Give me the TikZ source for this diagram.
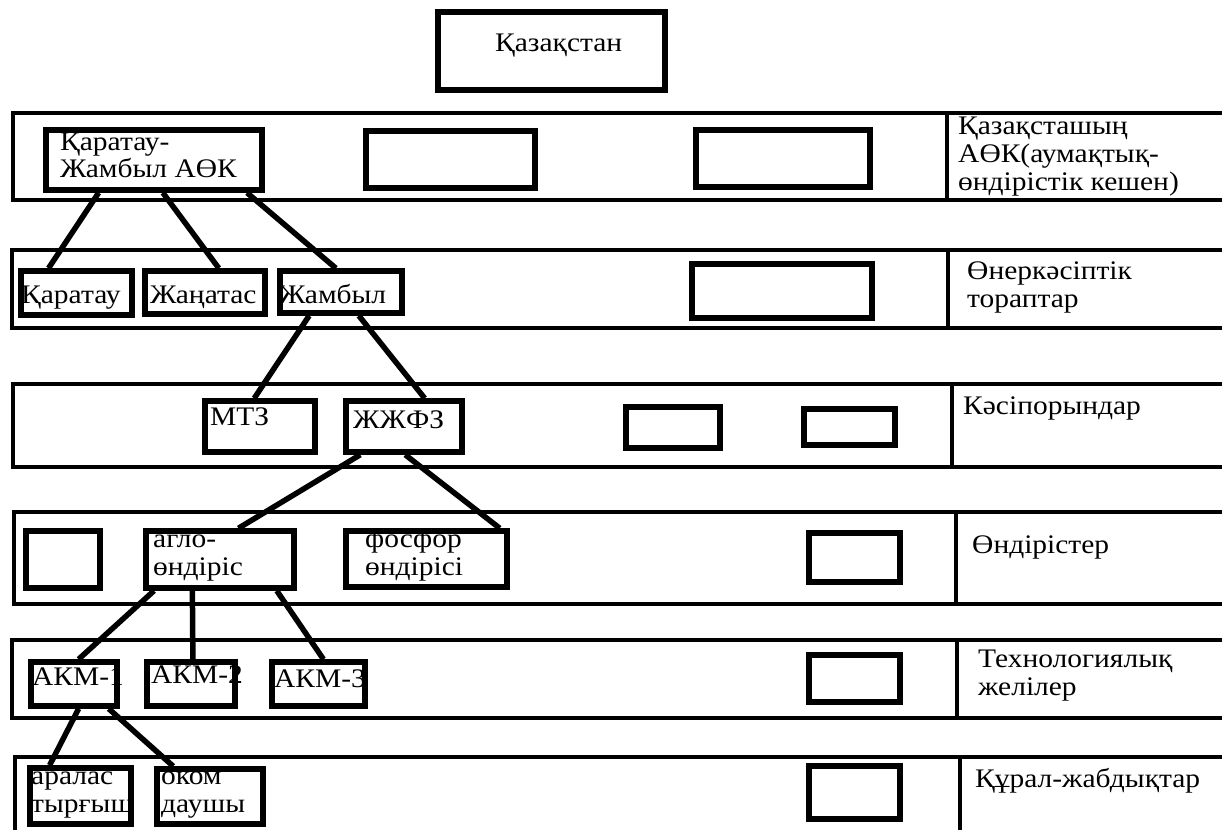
\documentclass[tikz,border=0pt]{standalone}
\usepackage{fontspec}
\setmainfont{Liberation Serif}[FakeStretch=1.1]
\usetikzlibrary{calc}

\newcommand\lblfont{\fontsize{26.8}{27.8}\selectfont}
% box by its border centre line: [style] name, x1, y1, x2, y2
\newcommand\boxnode[6][ibox]{%
  \node[#1,minimum width={(#5)-(#3)},minimum height={(#6)-(#4)}] (#2) at ({((#3)+(#5))/2},{((#4)+(#6))/2}) {};}
% connector from a point along the bottom of one box to a point along the top of another
\newcommand\linkit[4]{%
  \draw[link] ($(#1.south west)!#2!(#1.south east)$) -- ($(#3.north west)!#4!(#3.north east)$);}

\tikzset{
  band/.style={draw, line width=4.5pt, inner sep=0pt, outer sep=0pt},
  ibox/.style={draw, line width=5.5pt, inner sep=0pt},
  link/.style={line width=5.5pt},
  divider/.style={line width=4.5pt},
  % anchored at the baseline of the last line
  txt/.style={inner sep=0pt, font=\lblfont, align=left, anchor=base west},
}

\begin{document}
\begin{tikzpicture}[x=1pt,y=-1pt]
\useasboundingbox (0,0) rectangle (1222,829);
\clip (0,0) rectangle (1222,829);

% level bands, open at the right edge
\boxnode[band]{b1}{13}{113}{1245}{200}
\boxnode[band]{b2}{12}{250}{1245}{328}
\boxnode[band]{b3}{13}{384}{1245}{467}
\boxnode[band]{b4}{14}{512}{1245}{604}
\boxnode[band]{b5}{12}{640}{1245}{718}
\boxnode[band]{b6}{15}{757}{1245}{860}

% column separating the level names
\draw[divider] (b1.north west -| 947,0) -- (b1.south west -| 947,0);
\draw[divider] (b2.north west -| 948,0) -- (b2.south west -| 948,0);
\draw[divider] (b3.north west -| 952,0) -- (b3.south west -| 952,0);
\draw[divider] (b4.north west -| 956,0) -- (b4.south west -| 956,0);
\draw[divider] (b5.north west -| 957,0) -- (b5.south west -| 957,0);
\draw[divider] (b6.north west -| 960,0) -- (b6.south west -| 960,0);

% top
\boxnode{kz}{438}{12}{665}{90}
\node[txt] (tkz) at (495,52) {Қазақстан};

% level 1
\boxnode{kj}{46}{130}{262}{190}
\boxnode{e1b}{366}{131}{535}{188}
\boxnode{e1c}{696}{130}{870}{187}
\node[txt] (tkj) at (60,178) {Қаратау-\\Жамбыл АӨК};
\node[txt] (l1) at (958,190) {Қазақсташың\\АӨК(аумақтық-\\өндірістік кешен)};

% level 2
\boxnode{kar}{21}{271}{132}{315}
\boxnode{zhan}{145}{271}{265}{314}
\boxnode{zham}{280}{271}{402}{313}
\boxnode{e2d}{692}{264}{872}{318}
\node[txt] (tkar) at (21,303) {Қаратау};
\node[txt] (tzhan) at (150,303) {Жаңатас};
\node[txt] (tzham) at (279,303) {Жамбыл};
\node[txt] (l2) at (967,307) {Өнеркәсіптік\\тораптар};

% level 3
\boxnode{mtz}{205}{401}{315}{452}
\boxnode{zhzh}{346}{401}{462}{452}
\boxnode{e3c}{626}{407}{720}{448}
\boxnode{e3d}{804}{409}{895}{445}
\node[txt] (tmtz) at (210,425) {МТЗ};
\node[txt] (tzhzh) at (353,428) {ЖЖФЗ};
\node[txt] (l3) at (963,414) {Кәсіпорындар};

% level 4
\boxnode{e4a}{26}{531}{100}{588}
\boxnode{aglo}{146}{531}{294}{588}
\boxnode{fos}{346}{531}{507}{587}
\boxnode{e4d}{809}{533}{900}{582}
\node[txt] (taglo) at (153,575) {агло-\\өндіріс};
\node[txt] (tfos) at (365,575) {фосфор\\өндірісі};
\node[txt] (l4) at (972,553) {Өндірістер};

% level 5
\boxnode{akm1}{31}{662}{117}{706}
\boxnode{akm2}{147}{662}{235}{706}
\boxnode{akm3}{272}{662}{365}{706}
\boxnode{e5d}{809}{655}{900}{702}
\node[txt] (takm1) at (32,685) {АКМ-1};
\node[txt] (takm2) at (151,683) {АКМ-2};
\node[txt] (takm3) at (274,687) {АКМ-3};
\node[txt] (l5) at (978,695) {Технологиялық\\желілер};

% level 6
\boxnode{aral}{30}{768}{131}{824}
\boxnode{okom}{157}{769}{263}{824}
\boxnode{e6d}{809}{766}{900}{819}
\node[txt] (taral) at (31,812) {аралас\\тырғыш};
\node[txt] (tokom) at (161,812) {оком\\даушы};
\node[txt] (l6) at (975,787) {Құрал-жабдықтар};

% connectors
\linkit{kj}{0.25}{kar}{0.26}
\linkit{kj}{0.54}{zhan}{0.61}
\linkit{kj}{0.92}{zham}{0.46}
\linkit{zham}{0.25}{mtz}{0.45}
\linkit{zham}{0.64}{zhzh}{0.67}
\linkit{zhzh}{0.14}{aglo}{0.62}
\linkit{zhzh}{0.51}{fos}{0.94}
\linkit{aglo}{0.07}{akm1}{0.55}
\linkit{aglo}{0.32}{akm2}{0.52}
\linkit{aglo}{0.87}{akm3}{0.55}
\linkit{akm1}{0.55}{aral}{0.21}
\linkit{akm1}{0.88}{okom}{0.17}
\end{tikzpicture}
\end{document}
